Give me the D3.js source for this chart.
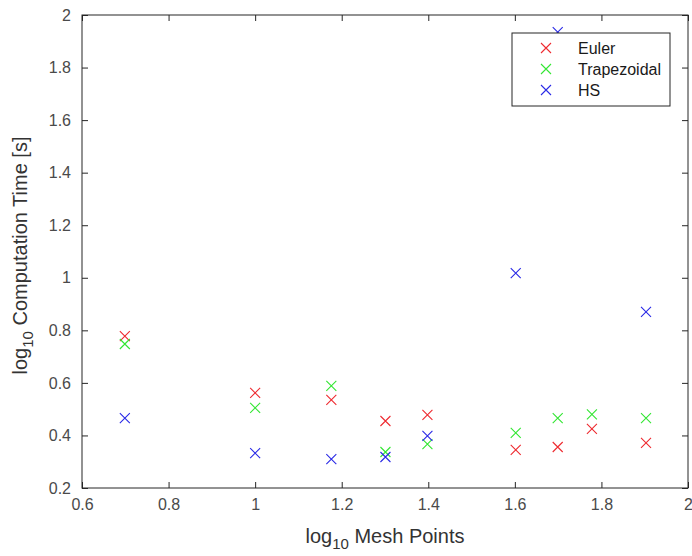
<!DOCTYPE html>
<html>
<head>
<meta charset="utf-8">
<script src="https://cdn.jsdelivr.net/npm/d3@7"></script>
<style>
  body { margin: 0; background: #fff; }
  svg { font-family: 'Liberation Sans', Arial, sans-serif; }
</style>
</head>
<body>
<div id="myPlot"></div>
<script>
// log10 of mesh points (x) and log10 of computation time per method
const meshLog = [0.699, 1.0, 1.176, 1.301, 1.398, 1.602, 1.699, 1.778, 1.903];
const euler = [0.778, 0.562, 0.535, 0.455, 0.478, 0.345, 0.356, 0.425, 0.372];
const trapezoidal = [0.748, 0.505, 0.589, 0.337, 0.367, 0.41, 0.466, 0.48, 0.466];
const hs = [0.466, 0.333, 0.31, 0.318, 0.398, 1.018, 1.935, null, 0.87];
const xTicks = [0.6, 0.8, 1, 1.2, 1.4, 1.6, 1.8, 2];
const yTicks = [0.2, 0.4, 0.6, 0.8, 1, 1.2, 1.4, 1.6, 1.8, 2];
const seriesNames = ['Euler', 'Trapezoidal', 'HS'];
const seriesColors = ['#ee2a30', '#33e633', '#2a2ae6'];

const seriesData = [euler, trapezoidal, hs];

const width = 692, height = 556;
const margin = {top: 15, right: 4, bottom: 68, left: 82};
const w = width - margin.left - margin.right;
const h = height - margin.top - margin.bottom;
const axisColor = '#262626';

const svg = d3.select('#myPlot')
  .append('svg')
    .attr('width', width)
    .attr('height', height);

const g = svg.append('g')
  .attr('transform', 'translate(' + margin.left + ',' + margin.top + ')');

const x = d3.scaleLinear().domain([0.6, 2]).range([0, w]);
const y = d3.scaleLinear().domain([0.2, 2]).range([h, 0]);

const fmt = d => String(+d.toFixed(1));

// axes with inward ticks (box on)
const styleAxis = sel => {
  sel.select('.domain').remove();
  sel.selectAll('line').attr('stroke', axisColor);
  sel.selectAll('text').attr('fill', '#4a4a4a').style('font-size', '16px');
};

g.append('g')
  .attr('transform', 'translate(0,' + h + ')')
  .call(d3.axisBottom(x).tickValues(xTicks).tickFormat(fmt).tickSizeInner(-6).tickSizeOuter(0).tickPadding(11))
  .call(styleAxis);
g.append('g')
  .call(d3.axisTop(x).tickValues(xTicks).tickFormat('').tickSizeInner(-6).tickSizeOuter(0))
  .call(styleAxis);
g.append('g')
  .call(d3.axisLeft(y).tickValues(yTicks).tickFormat(fmt).tickSizeInner(-6).tickSizeOuter(0).tickPadding(11))
  .call(styleAxis);
g.append('g')
  .attr('transform', 'translate(' + w + ',0)')
  .call(d3.axisRight(y).tickValues(yTicks).tickFormat('').tickSizeInner(-6).tickSizeOuter(0))
  .call(styleAxis);

g.append('rect')
  .attr('width', w)
  .attr('height', h)
  .attr('fill', 'none')
  .attr('stroke', axisColor)
  .attr('stroke-width', 1);

// x markers
const cross = (sel, s) => {
  sel.append('path')
    .attr('d', 'M' + (-s) + ',' + (-s) + 'L' + s + ',' + s + 'M' + (-s) + ',' + s + 'L' + s + ',' + (-s))
    .attr('fill', 'none');
};

seriesData.forEach((vals, si) => {
  const pts = vals.map((v, i) => ({x: meshLog[i], y: v})).filter(d => d.y !== null);
  g.selectAll('g.s' + si)
    .data(pts)
    .enter()
    .append('g')
      .attr('class', 's' + si)
      .attr('transform', d => 'translate(' + x(d.x) + ',' + y(d.y) + ')')
      .attr('stroke', seriesColors[si])
      .attr('stroke-width', 1.1)
      .each(function() { cross(d3.select(this), 5); });
});

// legend
const legend = svg.append('g').attr('transform', 'translate(512,33)');
legend.append('rect')
  .attr('width', 158)
  .attr('height', 73)
  .attr('fill', '#fff')
  .attr('stroke', axisColor)
  .attr('stroke-width', 1);
seriesNames.forEach((name, i) => {
  const row = legend.append('g').attr('transform', 'translate(34,' + (15 + i * 21) + ')');
  row.append('g')
    .attr('stroke', seriesColors[i])
    .attr('stroke-width', 1.1)
    .call(sel => cross(sel, 5));
  row.append('text')
    .attr('x', 32)
    .attr('y', 5.5)
    .attr('fill', '#1a1a1a')
    .style('font-size', '16px')
    .text(name);
});

// axis labels
const xl = svg.append('text')
  .attr('x', margin.left + w / 2)
  .attr('y', 543)
  .attr('text-anchor', 'middle')
  .attr('fill', '#333')
  .style('font-size', '20px');
xl.append('tspan').text('log');
xl.append('tspan').attr('dy', 6).style('font-size', '15px').text('10');
xl.append('tspan').attr('dy', -6).text(' Mesh Points');

const yl = svg.append('text')
  .attr('transform', 'translate(27,' + (margin.top + h / 2 + 4) + ')rotate(-90)')
  .attr('text-anchor', 'middle')
  .attr('fill', '#333')
  .style('font-size', '20px');
yl.append('tspan').text('log');
yl.append('tspan').attr('dy', 6).style('font-size', '15px').text('10');
yl.append('tspan').attr('dy', -6).text(' Computation Time [s]');
</script>
</body>
</html>
